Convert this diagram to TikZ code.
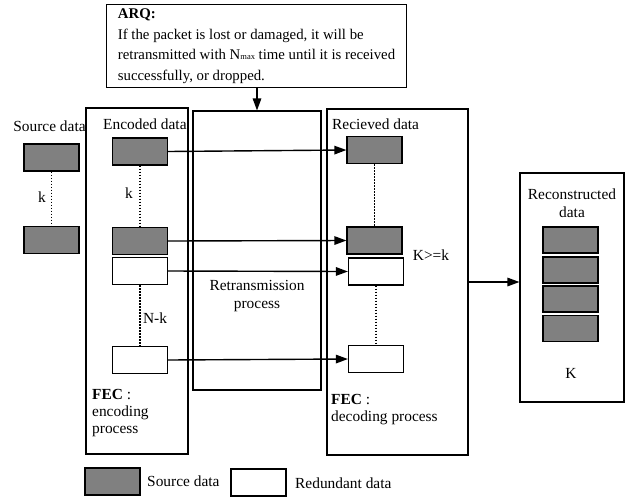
\documentclass[tikz,border=0pt]{standalone}
\usepackage{fontspec}
\setmainfont{Liberation Serif}
\usetikzlibrary{arrows.meta}
\definecolor{pktgray}{HTML}{808080}
\tikzset{
  lbl/.style={font=\fontsize{15.4}{17}\selectfont, inner sep=0pt},
  pkt/.style={draw, line width=1.2pt, fill=pktgray, minimum width=55pt, minimum height=27pt, inner sep=0pt},
  red/.style={pkt, fill=white},
  bigbox/.style={draw, line width=1.1pt, inner sep=0pt},
  arr/.style={line width=1.4pt, -{Triangle[length=12pt,width=8.5pt]}},
  dots/.style={line width=1.2pt, dash pattern=on 1.5pt off 1.5pt}
}
\begin{document}
\begin{tikzpicture}[x=1pt,y=-1pt]
\useasboundingbox (0,0) rectangle (629,496);
% big boxes
\node[bigbox, minimum width=102pt, minimum height=346pt] (encbox) at (137,281) {};
\node[bigbox, minimum width=128pt, minimum height=279pt] (retbox) at (257,250.5) {};
\node[bigbox, minimum width=141pt, minimum height=346pt] (recbox) at (397.5,282) {};
\node[bigbox, minimum width=104pt, minimum height=229pt] (conbox) at (572,287.5) {};
% ARQ box
\node[draw, line width=1.1pt, anchor=north west, minimum width=300pt, minimum height=83pt, inner xsep=6pt, inner ysep=3pt, align=left, font=\fontsize{14.8}{20.5}\selectfont] (arq) at (106,4)
{\textbf{ARQ:}\\If the packet is lost or damaged, it will be\\retransmitted with N{\fontsize{8.5}{9}\selectfont max} time until it is received\\successfully, or dropped.};
\draw[arr] (retbox.north |- arq.south) -- (retbox.north);
% source packets
\node[pkt] (s1) at (51.5,157.5) {};
\node[pkt] (s2) at (51.5,240) {};
\draw[dots] (s1.south) -- (s2.north);
\node[lbl] (srclbl) at (49.5,126) {Source data};
\node[lbl] (ks) at (42,197) {k};
% encoded packets
\node[pkt] (e1) at (140,151.5) {};
\node[pkt] (e2) at (140,241) {};
\node[red] (e3) at (140,271) {};
\node[red] (e4) at (140,360) {};
\draw[dots] (e1.south) -- (e2.north);
\draw[dots] (e3.south) -- (e4.north);
\node[lbl, anchor=west] (enclbl) at (103,124) {Encoded data};
\node[lbl] (ke) at (129,193) {k};
\node[lbl] (nk) at (155,318) {N-k};
\node[lbl, anchor=north west, align=left, font=\fontsize{15.4}{17}\selectfont] (fecenc) at (92,389) {\textbf{FEC} :\\encoding\\process};
% received packets
\node[pkt] (r1) at (374.5,150) {};
\node[pkt] (r2) at (374.5,240.5) {};
\node[red] (r3) at (376,271.5) {};
\node[red] (r4) at (376,359) {};
\draw[dots] (r1.south) -- (r2.north);
\draw[dots] (r3.south) -- (r4.north);
\node[lbl, anchor=west] (reclbl) at (332,124) {Recieved data};
\node[lbl] (kk) at (431,255) {K>=k};
\node[lbl, anchor=north west, align=left, font=\fontsize{15.4}{17}\selectfont] (fecdec) at (331,394) {\textbf{FEC} :\\decoding process};
% transmissions
\draw[arr] (e1.east) -- (r1.west);
\draw[arr] (e2.east) -- (r2.west);
\draw[arr] (e3.east) -- (r3.west);
\draw[arr] (e4.east) -- (r4.west);
\node[lbl, align=center, font=\fontsize{15.4}{18}\selectfont] (retlbl) at (257,296) {Retransmission\\process};
% reconstructed
\node[lbl, align=center, font=\fontsize{15.4}{18}\selectfont] (conlbl) at (572,203) {Reconstructed\\data};
\node[pkt, minimum height=26pt] (c1) at (570.5,240) {};
\node[pkt, minimum height=26pt] (c2) at (570.5,270) {};
\node[pkt, minimum height=26pt] (c3) at (570.5,299) {};
\node[pkt, minimum height=26pt] (c4) at (570.5,328.5) {};
\node[lbl] (bigk) at (571,373) {K};
\draw[arr] (recbox.east) -- (recbox.east -| conbox.west);
% legend
\node[pkt] (lg1) at (112.5,481.5) {};
\node[lbl, anchor=west] (lgt1) at (147,481) {Source data};
\node[red] (lg2) at (258.5,482.5) {};
\node[lbl, anchor=west] (lgt2) at (295,483) {Redundant data};
\end{tikzpicture}
\end{document}
